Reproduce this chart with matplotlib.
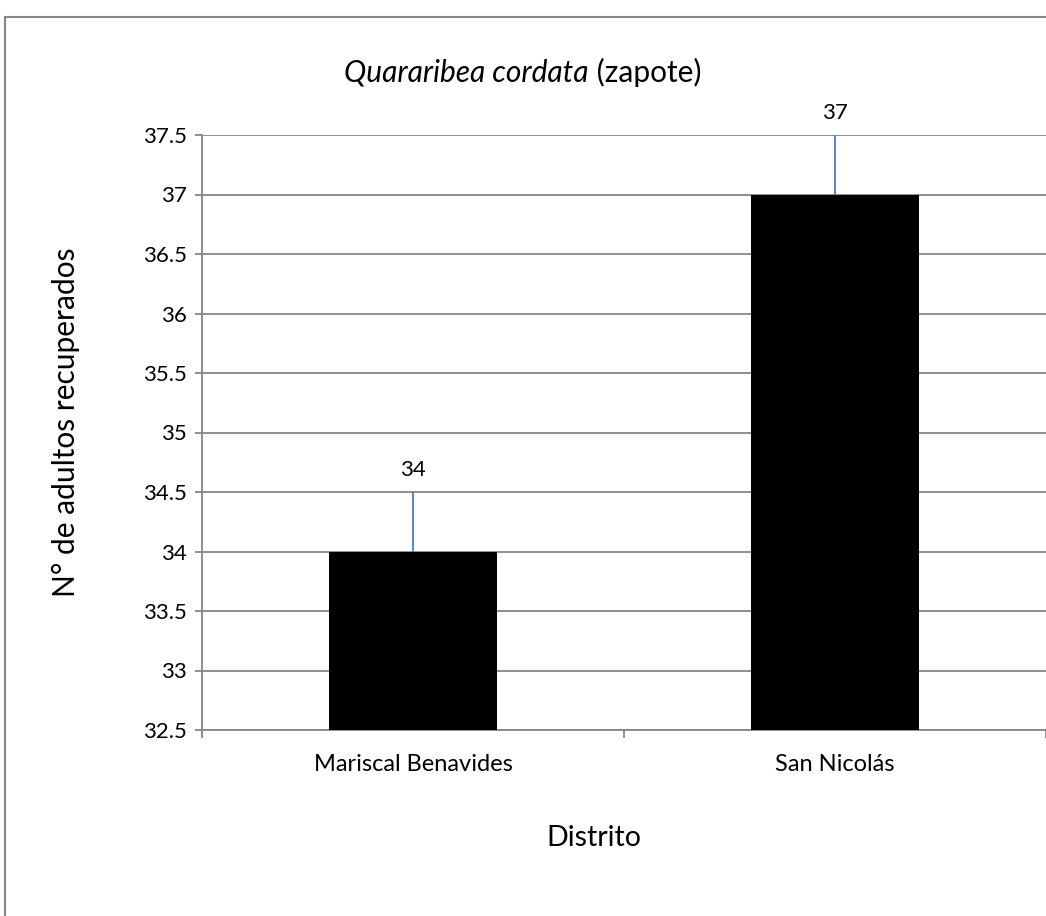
import matplotlib
matplotlib.use("Agg")
import matplotlib.pyplot as plt
from matplotlib.patches import Rectangle
from matplotlib.ticker import MultipleLocator, FormatStrFormatter

# datos: adultos recuperados por distrito
distritos = ["Mariscal Benavides", "San Nicolás"]
adultos = [34, 37]
error_sup = [0.5, 0.5]

plt.rcParams["font.family"] = ["Lato", "DejaVu Sans"]
gris = "#868686"

fig = plt.figure(figsize=(10.46, 9.16), dpi=100)
ax = fig.add_axes([202/1046, 186/916, 844/1046, 595/916])

x = list(range(len(distritos)))
ax.bar(x, adultos, width=0.4, color="black", zorder=3)
ax.errorbar(x, adultos, yerr=[[0]*len(x), error_sup], fmt="none",
            ecolor="#4a7ebb", elinewidth=1.3, capsize=0, zorder=4)
for xi, v, e in zip(x, adultos, error_sup):
    ax.annotate(f"{v}", (xi, v + e), xytext=(0, 16), textcoords="offset points",
                ha="center", va="center", fontsize=16)

ax.set_xlim(-0.5, len(distritos) - 0.5)
ax.set_ylim(32.5, 37.5)
ax.yaxis.set_major_locator(MultipleLocator(0.5))
ax.yaxis.set_major_formatter(FormatStrFormatter("%g"))
ax.grid(axis="y", color=gris, lw=1.3, zorder=0)
ax.set_xticks(x)
ax.set_xticklabels(distritos, fontsize=17)
ax.set_xticks([i - 0.5 for i in range(len(distritos) + 1)], minor=True)
ax.tick_params(axis="x", which="major", length=0, pad=17.5)
ax.tick_params(axis="x", which="minor", length=6, color=gris, width=1.3)
ax.tick_params(axis="y", length=5, color=gris, width=1.3, labelsize=16, pad=6)
for s in ["top", "right"]:
    ax.spines[s].set_visible(False)
for s in ["left", "bottom"]:
    ax.spines[s].set_color(gris)
    ax.spines[s].set_linewidth(1.3)

# título: nombre científico en cursiva + nombre común
ty = 1 - 72/916
t1 = fig.text(0, ty, "Quararibea cordata", style="italic", ha="left", va="center", fontsize=21.5)
t2 = fig.text(0, ty, " (zapote)", ha="left", va="center", fontsize=21.5)
fig.canvas.draw()
r = fig.canvas.get_renderer()
w1 = t1.get_window_extent(r).width / fig.bbox.width
w2 = t2.get_window_extent(r).width / fig.bbox.width
x0 = 0.5 - (w1 + w2) / 2
t1.set_x(x0)
t2.set_x(x0 + w1)

fig.text(66/1046, 1 - 422/916, "N° de adultos recuperados", rotation=90,
         ha="center", va="center", fontsize=21.5)
fig.text(594/1046, 1 - 838/916, "Distrito", ha="center", va="center", fontsize=20.5)

# marco del área del gráfico
fig.patches.append(Rectangle((5/1046, -0.1), 1.2, 1.1 - 17/916,
                             transform=fig.transFigure, fill=False,
                             edgecolor=gris, lw=1.5))

fig.savefig("out.png", dpi=100)
